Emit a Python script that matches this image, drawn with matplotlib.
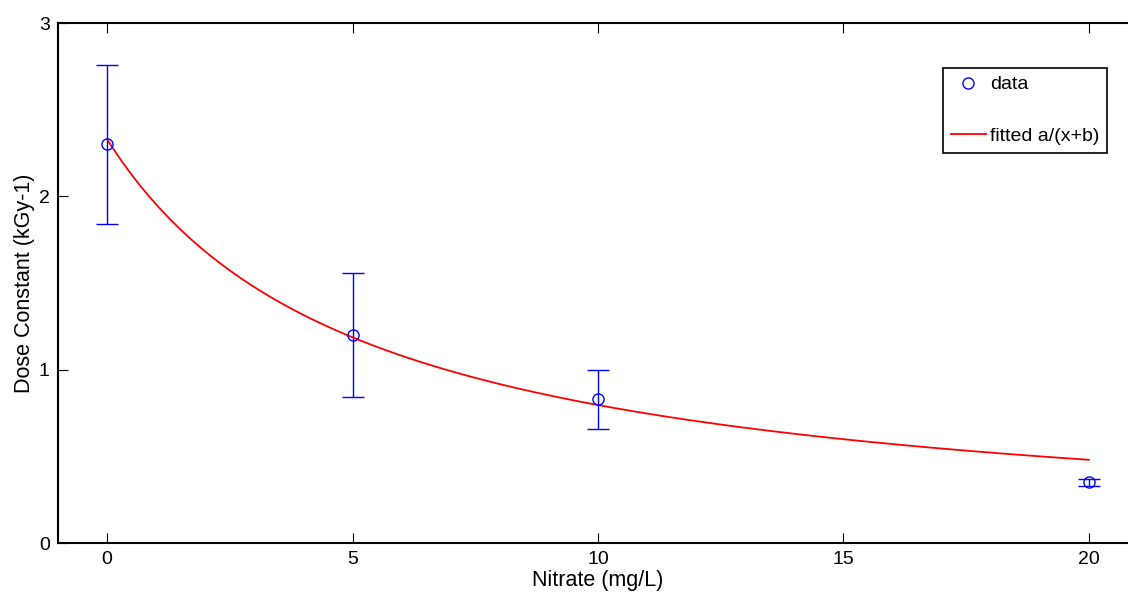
import numpy as np
import matplotlib
matplotlib.use("Agg")
import matplotlib.pyplot as plt
from matplotlib.lines import Line2D

plt.rcParams["font.family"] = ["Liberation Sans", "DejaVu Sans"]

# dati misurati
nitrate = [0, 5, 10, 20]
dose_k = [2.30, 1.20, 0.83, 0.35]
dose_err = [0.46, 0.36, 0.17, 0.02]

# parametri del fit a/(x+b)
fit_a = 12.09
fit_b = 5.19

xticks = [0, 5, 10, 15, 20]
yticks = [0, 1, 2, 3]

fig = plt.figure(figsize=(11.28, 5.97), dpi=100)
ax = fig.add_axes([58 / 1128, 54 / 597, 1080 / 1128, 520 / 597])

ax.errorbar(nitrate, dose_k, yerr=dose_err, fmt="o", color="blue", mfc="none",
            markersize=8, elinewidth=1, capsize=8, capthick=1)
xf = np.linspace(nitrate[0], nitrate[-1], 200)
ax.plot(xf, fit_a / (xf + fit_b), color="red", lw=1.3)

ax.set_xlim(-1, 21)
ax.set_ylim(0, 3)
ax.set_xticks(xticks)
ax.set_yticks(yticks)
ax.tick_params(direction="in", length=7, top=True, right=True, labelsize=14, pad=6)
for s in ax.spines.values():
    s.set_linewidth(1.5)
ax.set_xlabel("Nitrate (mg/L)", fontsize=15.5, labelpad=1)
ax.set_ylabel("Dose Constant (kGy-1)", fontsize=15.5, labelpad=3)

# legenda: solo cerchio per i dati, linea rossa per il fit
handles = [Line2D([], [], ls="none", marker="o", mfc="none", mec="blue", markersize=8),
           Line2D([], [], color="red", lw=1.3)]
labels = ["data", "fitted a/(x+b)"]
leg = ax.legend(handles, labels, loc="upper left", bbox_to_anchor=(943 / 1128, 1 - 68 / 597),
                bbox_transform=fig.transFigure, fancybox=False, edgecolor="black",
                framealpha=1, fontsize=14, labelspacing=1.75, handlelength=1.8,
                borderpad=0.4, handletextpad=0.2, borderaxespad=0)
leg.get_frame().set_linewidth(1.2)

fig.savefig("out.png", dpi=100)
